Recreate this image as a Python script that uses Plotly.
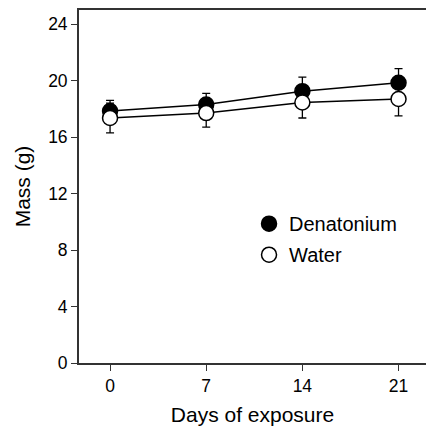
import plotly.graph_objects as go

days = [0, 7, 14, 21]
den_mean = [17.85, 18.3, 19.25, 19.85]
den_err = [0.75, 0.8, 1.0, 1.0]
wat_mean = [17.35, 17.7, 18.45, 18.7]
wat_err = [1.05, 1.0, 1.1, 1.2]
x_ticks = [0, 7, 14, 21]
y_ticks = [0, 4, 8, 12, 16, 20, 24]

FONT = "Arial, Liberation Sans, sans-serif"

fig = go.Figure()
series = [
    ("Denatonium", den_mean, den_err, "black", "a"),
    ("Water", wat_mean, wat_err, "white", "b"),
]
for name, mean, err, fill, grp in series:
    fig.add_trace(go.Scatter(
        x=days, y=mean, name=name, mode="lines+markers", showlegend=False,
        line=dict(color="black", width=1.5),
        marker=dict(symbol="circle", size=15, color=fill, line=dict(color="black", width=1.5)),
        error_y=dict(type="data", array=err, visible=True, color="black", thickness=1.3, width=4),
    ))
for name, mean, err, fill, grp in series:
    fig.add_trace(go.Scatter(
        x=[None], y=[None], name=name, mode="markers", legendgroup=grp,
        marker=dict(symbol="circle", size=15, color=fill, line=dict(color="black", width=1.5)),
    ))

fig.update_layout(
    width=426, height=426,
    margin=dict(l=79, r=0, t=10, b=63),
    paper_bgcolor="white", plot_bgcolor="white",
    font=dict(family=FONT, size=17.5, color="black"),
    showlegend=True,
    legend=dict(x=0.49, y=0.45, xanchor="left", yanchor="top",
                bgcolor="rgba(0,0,0,0)", font=dict(size=20),
                tracegroupgap=2, traceorder="grouped"),
    xaxis=dict(range=[-2.26, 23.0], tickvals=x_ticks, ticks="outside", ticklen=6,
               tickwidth=1.3, tickcolor="#333", showline=True, linecolor="#333", linewidth=1.8,
               mirror=True, showgrid=False, zeroline=False,
               title=dict(text="Days of exposure", standoff=14)),
    yaxis=dict(range=[0, 25], tickvals=y_ticks, ticks="outside", ticklen=6,
               tickwidth=1.3, tickcolor="#333", showline=True, linecolor="#333", linewidth=1.8,
               showgrid=False, zeroline=False,
               title=dict(text="Mass (g)", standoff=12)),
)

fig.write_html("out.html")
